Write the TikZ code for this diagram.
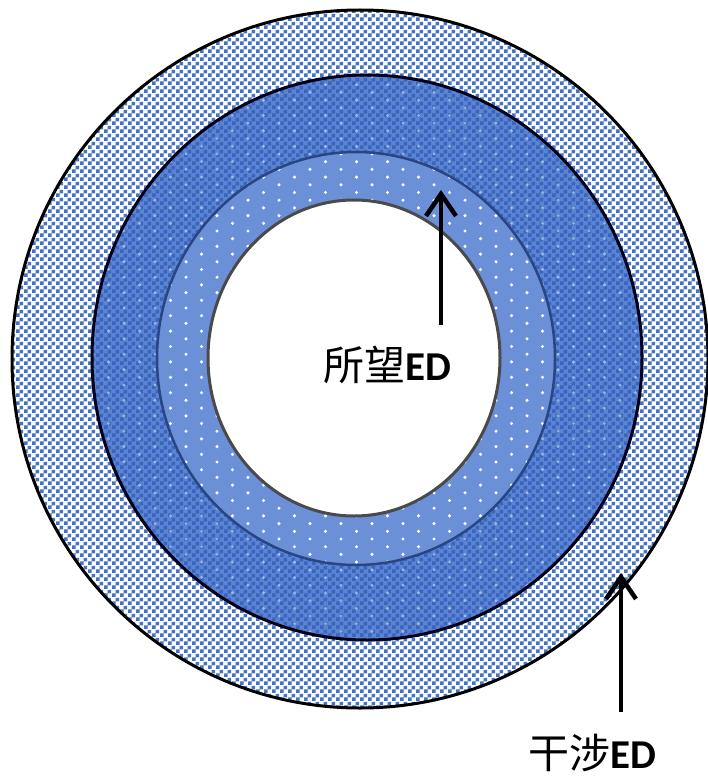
\documentclass[tikz,border=0pt]{standalone}
\usepackage{fontspec}
\newfontfamily\cjk{Noto Sans CJK SC}
\newfontfamily\lat{Carlito}
\usetikzlibrary{arrows.meta,patterns.meta}

\definecolor{chkblue}{RGB}{68,114,196}
\definecolor{midbase}{RGB}{90,132,212}
\definecolor{midchk}{RGB}{60,100,188}
\definecolor{ringlight}{RGB}{108,144,216}
\definecolor{ringline}{RGB}{40,70,130}
\definecolor{innerline}{RGB}{74,74,74}

\tikzdeclarepattern{
  name=chk,
  type=uncolored,
  bounding box={(0pt,0pt) and (8pt,8pt)},
  tile size={(8pt,8pt)},
  code={
    \pgfpathrectangle{\pgfpointorigin}{\pgfpoint{4pt}{4pt}}
    \pgfpathrectangle{\pgfpoint{4pt}{4pt}}{\pgfpoint{4pt}{4pt}}
    \pgfusepath{fill}
  }
}

\tikzset{
  arr/.style={line width=4.5pt, black, -{Straight Barb[length=22pt,width=30pt]}},
  lab/.style={anchor=base west, inner sep=0pt, font=\fontsize{41pt}{41pt}\selectfont},
  dotw/.style={white}
}

\begin{document}
\begin{tikzpicture}[x=1pt,y=-1pt]
\useasboundingbox (0,0) rectangle (707,781);
\fill[white] (0,0) rectangle (707,781);

% outer ring (checker)
\fill[white] (360,359) ellipse [x radius=348pt, y radius=349pt];
\fill[pattern={chk}, pattern color=chkblue] (360,359) ellipse [x radius=348pt, y radius=349pt];

% middle dark ring
\fill[midbase] (367,357.5) ellipse [x radius=275pt, y radius=282.5pt];
\fill[pattern={chk}, pattern color=midchk] (367,357.5) ellipse [x radius=275pt, y radius=282.5pt];
\begin{scope}
  \clip (367,357.5) ellipse [x radius=275pt, y radius=282.5pt];
  \foreach \j in {9,...,84} {
    \foreach \i in {2,...,21} {
      \fill[dotw, opacity=.45] ({\i*31 + mod(\j,2)*15.5}, {\j*7.7}) circle[radius=1.7pt];
    }
  }
\end{scope}

% light dotted ring
\fill[ringlight] (356,358.5) ellipse [x radius=199pt, y radius=206.5pt];
\begin{scope}
  \clip (356,358.5) ellipse [x radius=199pt, y radius=206.5pt];
  \foreach \j in {19,...,74} {
    \foreach \i in {4,...,18} {
      \fill[dotw] ({\i*31 + mod(\j,2)*15.5}, {\j*7.7}) circle[radius=1.7pt];
    }
  }
\end{scope}

% inner white
\fill[white] (354,358) ellipse [x radius=146pt, y radius=158pt];

% outlines
\draw[black, line width=3pt] (360,359) ellipse [x radius=348pt, y radius=349pt];
\draw[black!90!blue, line width=3pt] (367,357.5) ellipse [x radius=275pt, y radius=282.5pt];
\draw[ringline, line width=2.5pt] (356,358.5) ellipse [x radius=199pt, y radius=206.5pt];
\draw[innerline, line width=3pt] (354,358) ellipse [x radius=146pt, y radius=158pt];

% arrows
\coordinate (a1s) at (441,325);
\coordinate (a1e) at (441,190);
\draw[arr] (a1s) -- (a1e);
\coordinate (a2s) at (621,712);
\coordinate (a2e) at (621,573);
\draw[arr] (a2s) -- (a2e);

% labels
\node[lab] (lab1) at (323,380) {\cjk 所望\lat\bfseries ED};
\node[lab] (lab2) at (528,768) {\cjk 干涉\lat\bfseries ED};
\end{tikzpicture}
\end{document}
